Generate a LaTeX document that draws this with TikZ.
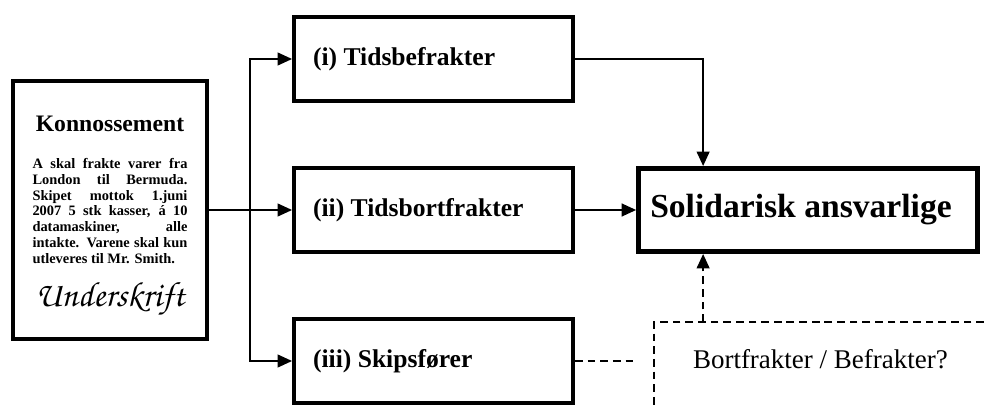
\documentclass[tikz,border=0pt]{standalone}
\usepackage{fontspec}
\setmainfont{Liberation Serif}
\usetikzlibrary{arrows.meta}
\newcommand{\signfont}{\usefont{OT1}{pzc}{m}{it}}

\begin{document}
\begin{tikzpicture}[node distance=3.775cm, auto,
    box/.style={draw, line width=2.8pt, minimum width=6.975cm, minimum height=2.1cm,
      text width=6.025cm, inner xsep=0.475cm, align=justify,
      font=\bfseries\fontsize{18.2}{22}\selectfont},
    arr/.style={line width=1.2pt, -{Triangle[length=0.36cm,width=0.32cm]}},
    dashedline/.style={line width=1.2pt, dash pattern=on 5.5pt off 3.5pt}]
    \useasboundingbox (0,0) rectangle (24.6,10.125);
    \node(K) [draw, line width=2.8pt, minimum width=4.85cm, minimum height=6.45cm,
      text width=3.875cm, align=justify] at (2.75,4.875) {%
      {\centering\bfseries\fontsize{16.8}{20}\selectfont\rule{0pt}{21pt}Konnossement\par}
      \vspace{15pt}
      {\bfseries\fontsize{10.25}{11.2}\selectfont A skal frakte varer fra\linebreak
        London til Bermuda.\linebreak Skipet mottok 1.juni\linebreak
        2007 5 stk kasser, á 10\linebreak datamaskiner, alle\linebreak
        intakte. Varene skal kun\linebreak utleveres til Mr. Smith.\par}
      \vspace{3pt}
      {\centering\signfont\fontsize{25}{28}\selectfont Underskrift\par}};
    \node(II) [box] at (10.8375,4.875) {(ii) Tidsbortfrakter};
    \node(I) [box, above of=II] {(i) Tidsbefrakter};
    \node(III) [box, below of=II] {(iii) Skipsfører};
    \node(S) [draw, line width=3.4pt, minimum width=8.475cm, minimum height=2.08cm,
      font=\bfseries\fontsize{23.9}{28}\selectfont] at (20.2,4.875)
      {Solidarisk ansvarlige\hspace*{0.35cm}};
    \node(B) [font=\fontsize{19.2}{23}\selectfont] at (20.51,1.15) {Bortfrakter / Befrakter?};
    \coordinate(J) at (6.25,4.875);
    \coordinate(F) at (16.35,2.075);
    \coordinate(Sn) at ([xshift=1.675cm]S.north west);
    \coordinate(Ss) at ([xshift=1.675cm]S.south west);
    \draw[arr](K) -- (II);
    \draw[arr](J) |- (I);
    \draw[arr](J) |- (III);
    \draw[arr](I) -| (Sn);
    \draw[arr](II) -- (S);
    \draw[dashedline](III) -- (III -| S.west);
    \draw[dashedline](24.6,2.075) -- (F) -- (16.35,0);
    \draw[arr, dashedline](Ss |- F) -- (Ss);
\end{tikzpicture}
\end{document}
